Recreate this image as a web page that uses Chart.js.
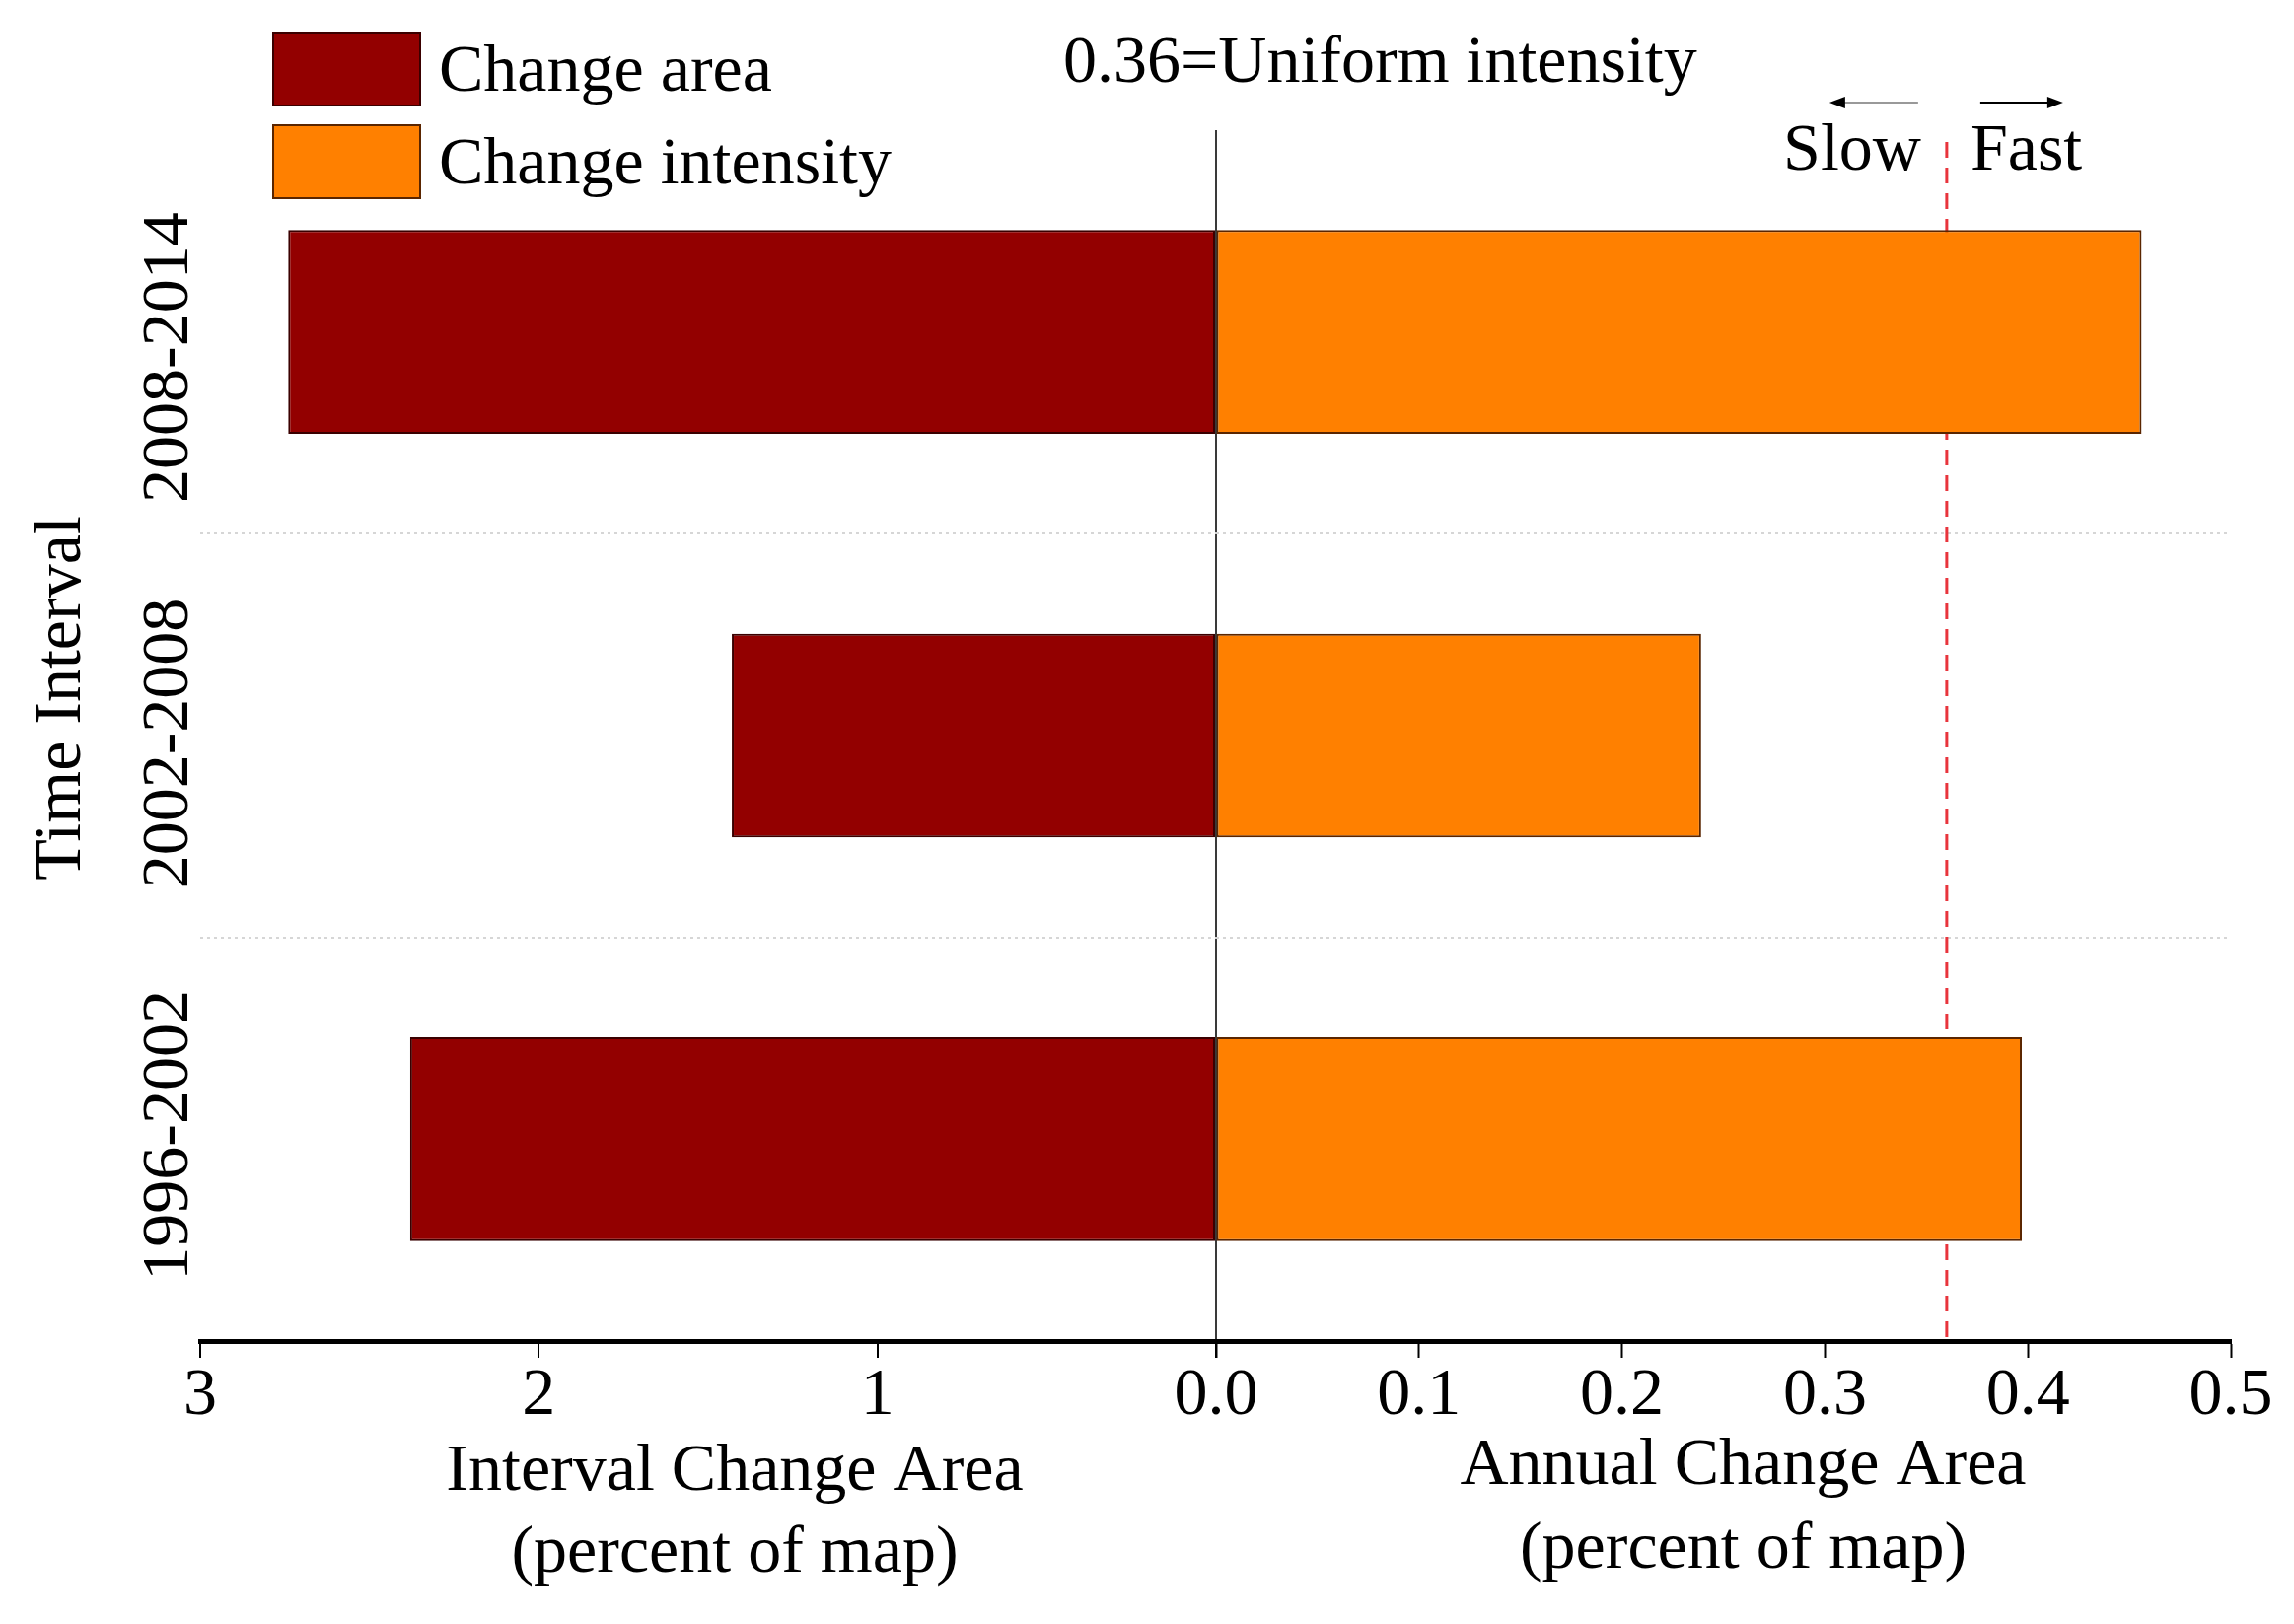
<!DOCTYPE html>
<html><head><meta charset="utf-8">
<script src="https://cdn.jsdelivr.net/npm/chart.js@4.4.0/dist/chart.umd.min.js"></script>
<style>
html,body{margin:0;padding:0;background:#fff;}
#wrap{position:relative;width:2326px;height:1647px;background:#fff;}
canvas{position:absolute;left:0;top:0;width:2326px;height:1647px;}
</style></head><body>
<div id="wrap"><canvas id="left" width="2326" height="1647"></canvas><canvas id="right" width="2326" height="1647"></canvas></div>
<script>
// ---- data ----
const CATEGORIES = ['2008-2014', '2002-2008', '1996-2002'];
const SERIES_NAMES = ['Change area', 'Change intensity'];
const CHANGE_AREA = [2.74, 1.43, 2.38];          // interval change area (% of map)
const CHANGE_INTENSITY = [0.456, 0.239, 0.397];  // annual change area (% of map)
const UNIFORM_INTENSITY = 0.36;
const LEFT_AXIS_TITLE = ['Interval Change Area', '(percent of map)'];
const RIGHT_AXIS_TITLE = ['Annual Change Area', '(percent of map)'];
const Y_TITLE = 'Time Interval';
const SPEED_LABELS = ['Slow', 'Fast'];

// ---- styles ----
const FONT = "'Liberation Serif', 'Times New Roman', serif";
const TXT = 68;
const AREA_COLOR = '#930000';
const INTENSITY_COLOR = '#ff8000';
const LABEL_NUDGE = [26, 8, -4];   // small vertical nudges of the rotated category labels
Chart.defaults.font.family = FONT;
Chart.defaults.color = '#000';

const W = 2326, ZERO_X = 1233, RIGHT_X = 2262, LEFT_X = 203, TOP_Y = 132, AXIS_H = 287;

function yGrid() {
  return {
    ticks: { display: false },
    grid: { offset: true, drawTicks: false, lineWidth: 2,
      color: c => (c.index === 1 || c.index === 2) ? '#d6d6d6' : 'rgba(0,0,0,0)' },
    border: { display: false, dash: [3, 4] }
  };
}

function axisTitle(ctx, lines, cx, baselines) {
  ctx.textAlign = 'center';
  ctx.textBaseline = 'alphabetic';
  lines.forEach((t, i) => ctx.fillText(t, cx, baselines[i]));
}

const leftDecor = {
  id: 'leftDecor',
  afterDraw(chart) {
    const ctx = chart.ctx, y = chart.scales.y, x = chart.scales.x;
    ctx.save();
    ctx.font = `${TXT}px ${FONT}`;
    ctx.fillStyle = '#000';
    ctx.textAlign = 'center';
    ctx.textBaseline = 'alphabetic';
    CATEGORIES.forEach((lab, i) => {
      const cy = y.getPixelForTick(i) + LABEL_NUDGE[i];
      ctx.save(); ctx.translate(190, cy); ctx.rotate(-Math.PI / 2); ctx.fillText(lab, 0, 0); ctx.restore();
    });
    ctx.save(); ctx.translate(81, 708); ctx.rotate(-Math.PI / 2); ctx.fillText(Y_TITLE, 0, 0); ctx.restore();
    axisTitle(ctx, LEFT_AXIS_TITLE, (x.left + x.right) / 2 + 27, [1511, 1594]);
    const colors = [AREA_COLOR, INTENSITY_COLOR];
    const borders = ['#3a0000', '#5a2500'];
    ctx.textAlign = 'left';
    SERIES_NAMES.forEach((name, i) => {
      const top = 33 + i * 94;
      ctx.fillStyle = colors[i];
      ctx.fillRect(277, top, 149, 74);
      ctx.strokeStyle = borders[i]; ctx.lineWidth = 2;
      ctx.strokeRect(277, top, 149, 74);
      ctx.fillStyle = '#000';
      ctx.fillText(name, 445, top + 59);
    });
    ctx.restore();
  }
};

function arrow(ctx, x1, x2, y, shaft) {
  const dir = Math.sign(x2 - x1);
  ctx.strokeStyle = shaft; ctx.lineWidth = 2;
  ctx.beginPath(); ctx.moveTo(x1, y); ctx.lineTo(x2 - dir * 10, y); ctx.stroke();
  ctx.fillStyle = '#000';
  ctx.beginPath(); ctx.moveTo(x2, y); ctx.lineTo(x2 - dir * 16, y - 6); ctx.lineTo(x2 - dir * 16, y + 6); ctx.closePath(); ctx.fill();
}

const rightDecor = {
  id: 'rightDecor',
  beforeDatasetsDraw(chart) {
    const { ctx, chartArea, scales: { x } } = chart;
    const px = x.getPixelForValue(UNIFORM_INTENSITY);
    ctx.save();
    ctx.strokeStyle = '#e8343c'; ctx.lineWidth = 3; ctx.setLineDash([16, 10]);
    ctx.beginPath(); ctx.moveTo(px, chartArea.top + 12); ctx.lineTo(px, chartArea.bottom - 3); ctx.stroke();
    ctx.restore();
  },
  afterDraw(chart) {
    const { ctx, scales: { x } } = chart;
    const px = x.getPixelForValue(UNIFORM_INTENSITY);
    ctx.save();
    ctx.font = `${TXT}px ${FONT}`;
    ctx.fillStyle = '#000';
    ctx.textBaseline = 'alphabetic';
    ctx.textAlign = 'left';
    ctx.fillText(`${UNIFORM_INTENSITY.toFixed(2)}=Uniform intensity`, 1078, 83);
    ctx.textAlign = 'right';
    ctx.fillText(SPEED_LABELS[0], px - 26, 172);
    ctx.textAlign = 'left';
    ctx.fillText(SPEED_LABELS[1], px + 24, 172);
    arrow(ctx, px - 29, px - 119, 104, '#999');
    arrow(ctx, px + 34, px + 118, 104, '#000');
    axisTitle(ctx, RIGHT_AXIS_TITLE, (x.left + x.right) / 2 + 20, [1505, 1590]);
    ctx.restore();
  }
};

new Chart(document.getElementById('left'), {
  type: 'bar',
  data: { labels: CATEGORIES, datasets: [{
    label: SERIES_NAMES[0], data: CHANGE_AREA, backgroundColor: AREA_COLOR,
    borderColor: '#3a0000', borderWidth: 2, borderSkipped: false,
    categoryPercentage: 0.505, barPercentage: 1 }] },
  options: {
    indexAxis: 'y', responsive: false, devicePixelRatio: 1, animation: false,
    layout: { padding: { left: 0, right: W - ZERO_X, top: TOP_Y, bottom: 0 } },
    plugins: { legend: { display: false }, tooltip: { enabled: false } },
    scales: {
      x: { type: 'linear', reverse: true, min: 0, max: 3,
        ticks: { stepSize: 1, maxRotation: 0, font: { size: TXT, lineHeight: 1 }, color: '#000', padding: 5,
          callback: v => v === 0 ? '' : String(v) },
        grid: { drawOnChartArea: true, lineWidth: 2, tickColor: '#000', tickWidth: 2, tickLength: 17,
          color: c => (c.tick && c.tick.value === 0) ? '#3a3a3a' : 'rgba(0,0,0,0)' },
        border: { display: true, color: '#000', width: 5 },
        title: { display: false },
        afterFit: s => { s.height = AXIS_H; }
      },
      y: Object.assign(yGrid(), { afterFit: s => { s.width = LEFT_X; } })
    }
  },
  plugins: [leftDecor]
});

new Chart(document.getElementById('right'), {
  type: 'bar',
  data: { labels: CATEGORIES, datasets: [{
    label: SERIES_NAMES[1], data: CHANGE_INTENSITY, backgroundColor: INTENSITY_COLOR,
    borderColor: '#5a2500', borderWidth: 2, borderSkipped: false,
    categoryPercentage: 0.505, barPercentage: 1 }] },
  options: {
    indexAxis: 'y', responsive: false, devicePixelRatio: 1, animation: false,
    layout: { padding: { left: ZERO_X, right: W - RIGHT_X, top: TOP_Y, bottom: 0 } },
    plugins: { legend: { display: false }, tooltip: { enabled: false } },
    scales: {
      x: { type: 'linear', min: 0, max: 0.5,
        ticks: { stepSize: 0.1, maxRotation: 0, font: { size: TXT, lineHeight: 1 }, color: '#000', padding: 5,
          callback: v => Number(v).toFixed(1) },
        grid: { drawOnChartArea: false, tickColor: '#000', tickWidth: 2, tickLength: 17 },
        border: { display: true, color: '#000', width: 5 },
        title: { display: false },
        afterFit: s => { s.height = AXIS_H; }
      },
      y: Object.assign(yGrid(), { afterFit: s => { s.width = 0; } })
    }
  },
  plugins: [rightDecor]
});
</script>
</body></html>
